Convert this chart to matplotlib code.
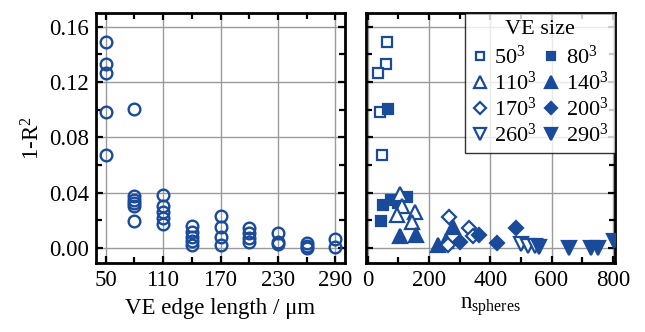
import matplotlib
matplotlib.use("Agg")
import matplotlib.pyplot as plt
from matplotlib.ticker import FixedLocator

plt.rcParams['font.family'] = ['Liberation Serif', 'DejaVu Serif']
plt.rcParams['mathtext.fontset'] = 'custom'
plt.rcParams['mathtext.rm'] = 'Liberation Serif'
plt.rcParams['mathtext.it'] = 'Liberation Serif:italic'

BLUE = '#1a4b9b'

# ---- left panel data: VE edge length vs 1-R^2 ----
edge_50 = [0.1487, 0.1328, 0.1263, 0.0986, 0.0669]
edge_80 = [0.1006, 0.0376, 0.0347, 0.0328, 0.0304, 0.0192]
edge_110 = [0.0381, 0.0304, 0.0256, 0.0213, 0.0172]
edge_140 = [0.0160, 0.0113, 0.0077, 0.0052, 0.0017]
edge_170 = [0.0232, 0.0149, 0.0077, 0.0022]
edge_200 = [0.0144, 0.0108, 0.0072, 0.0040]
edge_230 = [0.0106, 0.0041, 0.0024]
edge_260 = [0.0036, 0.0012, 0.0000]
edge_290 = [0.0065, 0.0005]
edge_sizes = [50, 80, 110, 140, 170, 200, 230, 260, 290]
edge_vals = [edge_50, edge_80, edge_110, edge_140, edge_170, edge_200,
             edge_230, edge_260, edge_290]

# ---- right panel data: n_spheres vs 1-R^2 ----
n_50 = [63, 61, 33, 40, 47]
y_50 = [0.1487, 0.1328, 0.1263, 0.0986, 0.0669]
n_80 = [66, 130, 75, 100, 50, 45]
y_80 = [0.1006, 0.0370, 0.0347, 0.0328, 0.0310, 0.0192]
n_110 = [107, 113, 96, 154, 145]
y_110 = [0.0388, 0.0300, 0.0237, 0.0256, 0.0185]
n_140 = [107, 158, 230, 255, 280]
y_140 = [0.0088, 0.0093, 0.0020, 0.0050, 0.0150]
n_170 = [267, 330, 345, 262]
y_170 = [0.0220, 0.0143, 0.0085, 0.0020]
n_200 = [483, 365, 300, 421]
y_200 = [0.0141, 0.0093, 0.0040, 0.0035]
n_260 = [502, 524, 545]
y_260 = [0.0030, 0.0012, 0.0010]
n_290 = [560, 656, 729, 750, 805]
y_290 = [0.0005, -0.0005, -0.0003, -0.0003, 0.0050]

right_series = [
    ('50', n_50, y_50, 's', False),
    ('80', n_80, y_80, 's', True),
    ('110', n_110, y_110, '^', False),
    ('140', n_140, y_140, '^', True),
    ('170', n_170, y_170, 'D', False),
    ('200', n_200, y_200, 'D', True),
    ('260', n_260, y_260, 'v', False),
    ('290', n_290, y_290, 'v', True),
]

fig = plt.figure(figsize=(6.45, 3.32), dpi=100)
axL = fig.add_axes([96/645, (332-263)/332, 249/645, 250/332])
axR = fig.add_axes([366/645, (332-263)/332, 249/645, 250/332])

FS = 16.5
LFS = 16

for s, vals in zip(edge_sizes, edge_vals):
    axL.plot([s]*len(vals), vals, linestyle='none', marker='o', ms=8.4,
             mfc='none', mec=BLUE, mew=1.7, zorder=3)

msz = {'s': 7.2, '^': 9.5, 'D': 7.6, 'v': 9.5}
handles = {}
for lab, nx, yy, mk, filled in right_series:
    h, = axR.plot(nx, yy, linestyle='none', marker=mk, ms=msz[mk],
                  mfc=BLUE if filled else 'white', mec=BLUE, mew=1.6,
                  zorder=3, label=f'{lab}$^3$')
    handles[lab] = h

for ax in (axL, axR):
    ax.set_ylim(-0.011, 0.170)
    ax.yaxis.set_major_locator(FixedLocator([0.0, 0.04, 0.08, 0.12, 0.16]))
    ax.yaxis.set_minor_locator(FixedLocator([0.02, 0.06, 0.10, 0.14]))
    ax.grid(True, which='major', color='#9a9a9a', lw=1.0, zorder=0)
    ax.set_axisbelow(True)
    ax.tick_params(which='both', direction='in', top=True, right=True,
                   width=1.6, labelsize=FS, pad=5)
    ax.tick_params(which='major', length=5)
    ax.tick_params(which='minor', length=4)
    for sp in ax.spines.values():
        sp.set_linewidth(2.0)

axL.set_xlim(40, 300)
axL.xaxis.set_major_locator(FixedLocator([50, 110, 170, 230, 290]))
axL.xaxis.set_minor_locator(FixedLocator([80, 140, 200, 260]))
axL.set_yticklabels(['0.00', '0.04', '0.08', '0.12', '0.16'])
axL.set_xlabel('VE edge length / μm', fontsize=FS, labelpad=5)
axL.set_ylabel('1-R$^2$', fontsize=FS, labelpad=3)

axR.set_xlim(-5, 807)
axR.xaxis.set_major_locator(FixedLocator([0, 200, 400, 600, 800]))
axR.xaxis.set_minor_locator(FixedLocator([100, 300, 500, 700]))
axR.tick_params(axis='y', labelleft=False)
axR.set_xlabel('n$_{\\mathrm{spheres}}$', fontsize=FS, labelpad=3)

order = ['50', '110', '170', '260', '80', '140', '200', '290']
leg = axR.legend([handles[k] for k in order], [handles[k].get_label() for k in order],
                 ncol=2, title='VE size', fontsize=LFS, title_fontsize=LFS,
                 loc='upper right', bbox_to_anchor=(1.0, 1.0),
                 frameon=True, fancybox=False, edgecolor='black',
                 markerscale=0.85,
                 handlelength=0.7, handletextpad=0.3, columnspacing=0.3,
                 labelspacing=0.12, borderpad=0.3, borderaxespad=0.0)
leg._legend_box.sep = 5
leg.get_frame().set_linewidth(1.0)

fig.savefig('out.png', dpi=100)
